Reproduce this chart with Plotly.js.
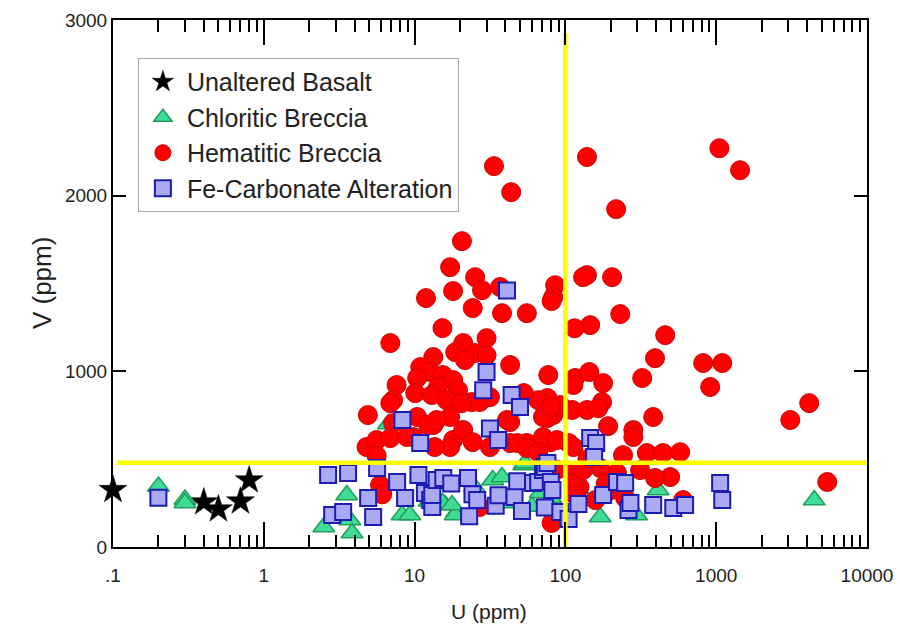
<!DOCTYPE html>
<html>
<head>
<meta charset="utf-8">
<script src="https://cdn.plot.ly/plotly-3.0.1.min.js"></script>
<style>html,body{margin:0;padding:0;background:#fff;}#chart{width:900px;height:631px;}</style>
</head>
<body>
<div id="chart"></div>
<script>
// ---------- data (U ppm, V ppm) ----------
const seriesNames = ['Unaltered Basalt', 'Chloritic Breccia', 'Hematitic Breccia', 'Fe-Carbonate Alteration'];
const xTitle = 'U (ppm)';
const yTitle = 'V (ppm)';

const basaltU = [0.1, 0.4, 0.5, 0.7, 0.8];
const basaltV = [325, 255, 215, 260, 380];

const chloriticU = [0.2, 0.3, 0.3, 2.5, 3.55, 3.72, 3.85, 6.7, 8.26, 9.3, 15.9, 19, 15.3, 18.6, 33, 38, 53, 68, 54, 17.7, 121, 170, 412, 296, 4470, 25, 45, 60, 80, 12.5];
const chloriticV = [345, 270, 250, 114, 296, 154, 80, 700, 182, 182, 239, 199, 250, 182, 381, 398, 467, 307, 478, 239, 330, 171, 324, 182, 267, 340, 250, 230, 280, 260];

const hematiticU = [1050, 1440, 139, 217, 33.6, 43.7, 20.6,
  17.2, 25.2, 28, 18, 11.9, 36.9, 85.5, 83,
  139, 131, 204, 81, 231, 146, 115, 459,
  393, 820, 1097, 912, 323, 77, 116, 144, 178, 175, 382, 282, 282, 192, 76, 83, 111, 139, 165, 80, 105,
  241, 347, 444, 577, 220, 495, 113, 124, 603,
  3100, 4140, 5450, 81,
  24.3, 38, 55.5, 15.3, 6.9, 30, 21, 18.6, 25.2, 43, 13.3, 10.9, 21.6, 30, 12.7, 10.4, 15.4, 18, 19.4, 14.3, 7.6, 10.1, 7.2, 4.9, 13, 23.9, 66, 76, 113, 92.6, 16.3, 31.6, 43, 53, 13.3, 20.5, 9.8, 7.2, 18, 43, 55.5, 71, 17.2,
  6.9, 4.8, 5.6, 6.9, 8.9, 10.4, 12.3,
  14, 21, 24.3, 17.2, 27, 41, 48, 55.5, 71, 80, 88, 66, 31.6, 113, 113, 27, 13.6,
  5.9, 170, 200, 131, 116, 158, 249, 313, 393, 5.6, 6.1, 75, 88, 185, 140];
const hematiticV = [2270, 2145, 2220, 1923, 2168, 2020, 1741,
  1593, 1536, 1462, 1457, 1417, 1480, 1490, 1422,
  1548, 1536, 1536, 1400, 1326, 1263, 1245, 1206,
  1075, 1047, 1047, 911, 962, 979, 962, 996, 933, 825, 740, 666, 626, 688, 848, 751, 780, 780, 790, 597, 592,
  523, 535, 535, 540, 421, 398, 421, 341, 267,
  723, 819, 370, 137,
  1360, 1331, 1331, 1246, 1161, 1189, 1161, 1109, 1104, 1036, 1081, 1024, 1064, 1092, 996, 962, 979, 950, 893, 910, 922, 876, 836, 751, 865, 825, 836, 734, 922, 808, 836, 853, 711, 876, 694, 819, 626, 705, 609, 592, 592, 626, 740,
  819, 569, 609, 620, 626, 740, 694,
  723, 666, 597, 569, 825, 723, 592, 563, 740, 797, 609, 540, 569, 569, 364, 228, 569,
  353, 450, 324, 438, 296, 267, 279, 438, 393, 520, 300, 420, 440, 360, 500];

const carbonateU = [0.2, 2.67, 2.84, 3.36, 3.62, 4.92, 5.31, 5.64, 7.66, 8.3, 8.65, 10.6, 10.9, 11.7, 12.7, 13.1, 13.1, 14, 15.5, 17.5, 22.6, 23, 24.2, 26, 28.5, 30, 31.6, 34.5, 35.8, 36, 41, 44, 46, 47.9, 50, 51.5, 61, 66, 71, 73, 73, 76, 80, 82, 92.6, 105, 122, 146, 160, 155, 178, 220, 249, 262, 270, 382, 519, 622, 1062, 1097];
const carbonateV = [280, 410, 182, 199, 421, 279, 171, 450, 370, 723, 279, 410, 592, 307, 267, 228, 296, 381, 393, 362, 393, 175, 300, 267, 893, 996, 675, 235, 609, 295, 1460, 865, 285, 375, 797, 205, 364, 370, 438, 455, 225, 478, 370, 324, 199, 160, 245, 620, 592, 512, 296, 370, 364, 211, 250, 239, 222, 239, 364, 267];

// threshold guide lines
const uThreshold = 100;
const vThreshold = 480;
const vLineTop = 2925;
const hLineStart = 0.106;
const hLineEnd = 10000;

// axis ticks
const xTickVals = [0.1, 1, 10, 100, 1000, 10000];
const xTickText = ['.1', '1', '10', '100', '1000', '10000'];
const yTickVals = [0, 1000, 2000, 3000];
const xInnerDecades = [1, 10, 100, 1000];
const yInnerTicks = [1000, 2000];

// ---------- build ----------
const minorVals = [];
[0.1, 1, 10, 100, 1000].forEach(d => { for (let k = 2; k <= 9; k++) minorVals.push(d * k); });

const traces = [
  { x: basaltU, y: basaltV, name: seriesNames[0], type: 'scatter', mode: 'markers', cliponaxis: false,
    marker: { symbol: 'star', size: 21, color: '#000000', line: { color: '#000000', width: 0.5 } } },
  { x: chloriticU, y: chloriticV, name: seriesNames[1], type: 'scatter', mode: 'markers',
    marker: { symbol: 'triangle-up', size: 19, color: '#3fdd93', line: { color: '#1f9e5c', width: 1.5 } } },
  { x: hematiticU, y: hematiticV, name: seriesNames[2], type: 'scatter', mode: 'markers',
    marker: { symbol: 'circle', size: 19, color: '#ff0000', line: { color: '#d00000', width: 1 } } },
  { x: carbonateU, y: carbonateV, name: seriesNames[3], type: 'scatter', mode: 'markers',
    marker: { symbol: 'square', size: 16, color: '#a9aaf3', line: { color: '#1c1cb4', width: 2 } } },
  { x: [uThreshold, uThreshold], y: [0, vLineTop], type: 'scatter', mode: 'lines', showlegend: false,
    hoverinfo: 'skip', line: { color: '#ffff00', width: 4.5 } },
  { x: [hLineStart, hLineEnd], y: [vThreshold, vThreshold], type: 'scatter', mode: 'lines', showlegend: false,
    hoverinfo: 'skip', line: { color: '#ffff00', width: 4.5 } }
];

const axisFont = { family: 'Liberation Sans', size: 19, color: '#222' };

const layout = {
  width: 900, height: 631,
  margin: { l: 113, r: 33, t: 20, b: 84 },
  paper_bgcolor: '#ffffff', plot_bgcolor: '#ffffff',
  font: { family: 'Liberation Sans', color: '#222222' },
  showlegend: true,
  legend: {
    x: 0.033, y: 0.928, xanchor: 'left', yanchor: 'top',
    bgcolor: '#ffffff', bordercolor: '#aaaaaa', borderwidth: 1,
    font: { family: 'Liberation Sans', size: 25, color: '#222222' },
    itemwidth: 38
  },
  xaxis: {
    type: 'log', range: [-1, 4], tickmode: 'array', tickvals: xTickVals, ticktext: xTickText,
    ticks: 'inside', ticklen: 25, tickwidth: 2, tickcolor: '#000000',
    minor: { tickmode: 'array', tickvals: minorVals, ticks: 'inside', ticklen: 12, tickwidth: 2, tickcolor: '#000000' },
    showline: true, linecolor: '#000', linewidth: 2, mirror: 'ticks', showgrid: false,
    tickfont: axisFont, ticklabelstandoff: 10
  },
  yaxis: {
    range: [0, 3000], tickmode: 'array', tickvals: yTickVals,
    ticks: 'inside', ticklen: 13, tickwidth: 2, tickcolor: '#000',
    showline: true, linecolor: '#000', linewidth: 2, mirror: 'ticks', showgrid: false,
    tickfont: axisFont
  },
  // overlay axes carrying the long decade ticks and the V ticks (drawn as minor ticks)
  xaxis2: {
    type: 'log', range: [-1, 4], overlaying: 'x', anchor: 'y', side: 'bottom',
    tickmode: 'array', tickvals: [], ticks: '', showticklabels: false,
    minor: { tickmode: 'array', tickvals: xInnerDecades, ticks: 'inside', ticklen: 25, tickwidth: 2, tickcolor: '#000000', showgrid: false },
    showline: true, linecolor: '#000', linewidth: 2, mirror: 'ticks', showgrid: false, zeroline: false
  },
  yaxis2: {
    range: [0, 3000], overlaying: 'y', anchor: 'x', side: 'left',
    tickmode: 'array', tickvals: [], ticks: '', showticklabels: false,
    minor: { tickmode: 'array', tickvals: yInnerTicks, ticks: 'inside', ticklen: 13, tickwidth: 2, tickcolor: '#000000', showgrid: false },
    showline: true, linecolor: '#000', linewidth: 2, mirror: 'ticks', showgrid: false, zeroline: false
  },
  annotations: [
    { text: xTitle, xref: 'paper', yref: 'paper', x: 0.499, y: -0.123, xanchor: 'center', yanchor: 'middle',
      showarrow: false, font: { family: 'Liberation Sans', size: 21, color: '#222222' } },
    { text: yTitle, xref: 'paper', yref: 'paper', x: -0.094, y: 0.501, xanchor: 'center', yanchor: 'middle',
      textangle: -90, showarrow: false, font: { family: 'Liberation Sans', size: 26, color: '#222222' } }
  ]
};

Plotly.newPlot('chart', traces, layout, { displayModeBar: false, staticPlot: true });
</script>
</body>
</html>
